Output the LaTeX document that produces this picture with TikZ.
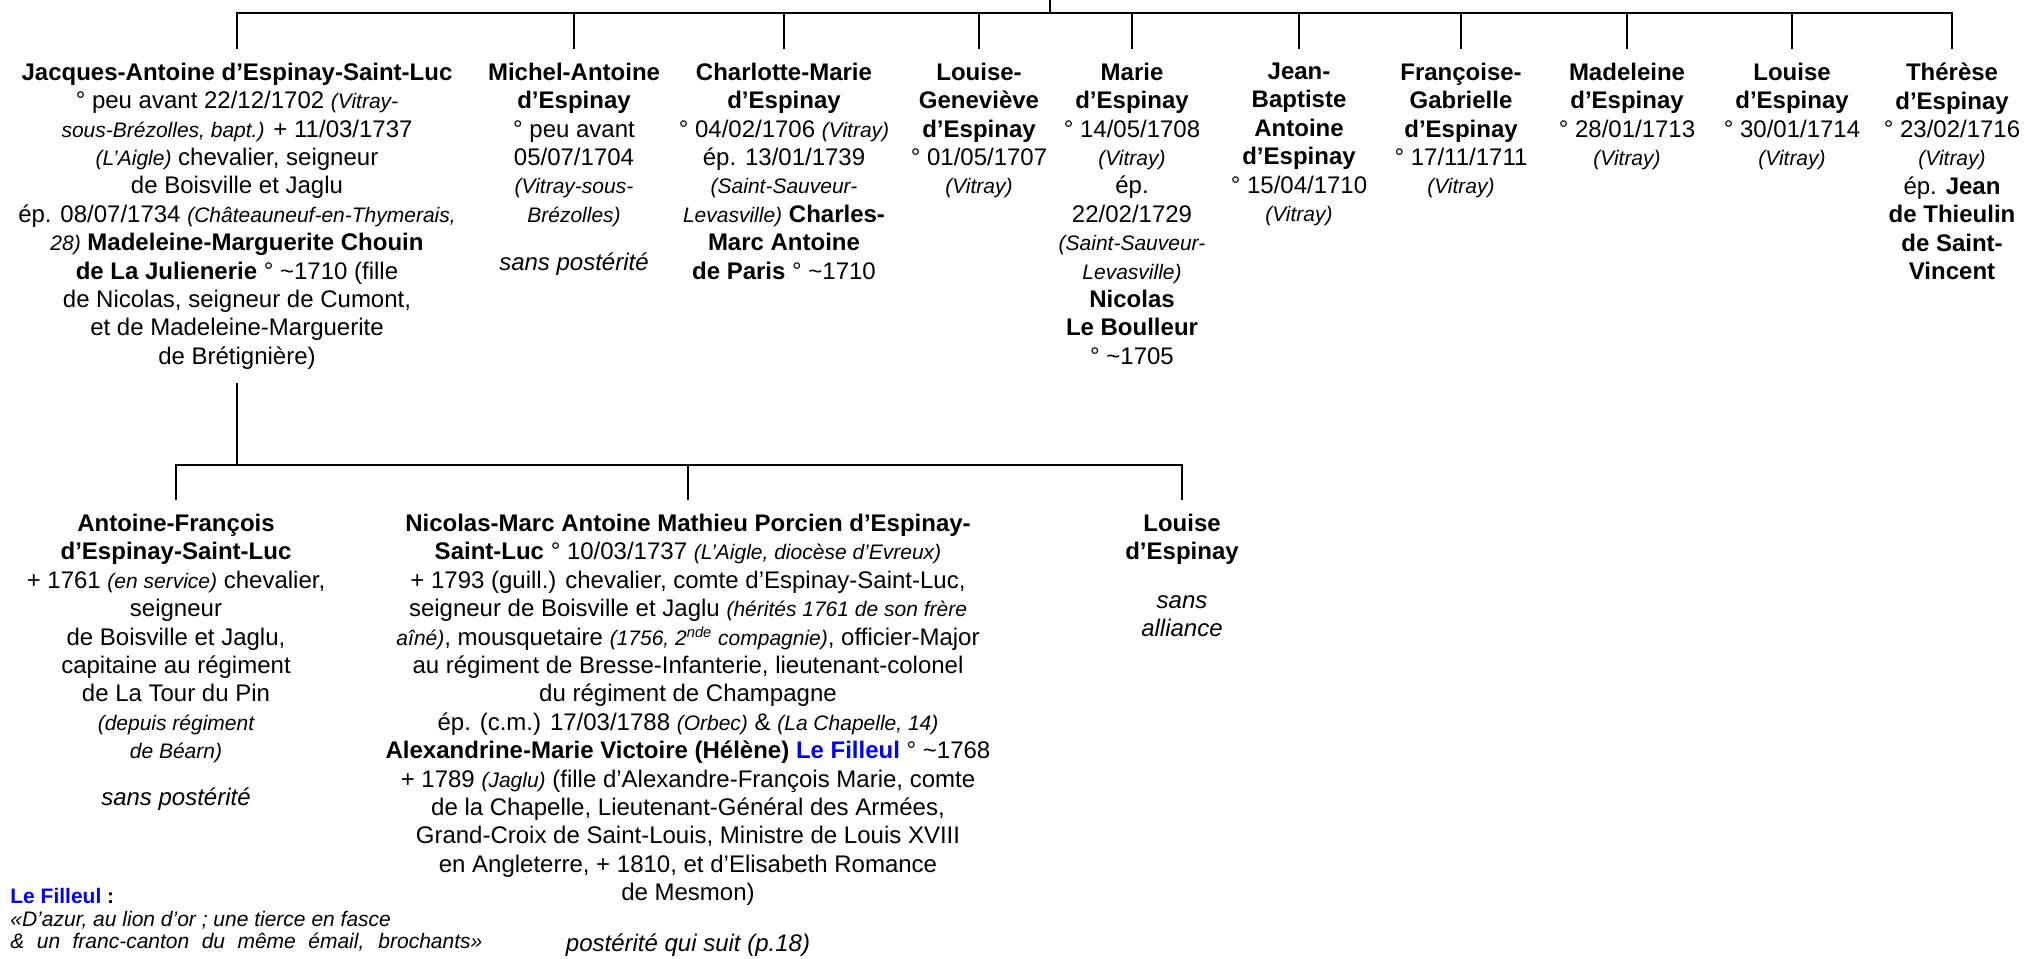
\documentclass[tikz,border=0pt]{standalone}
\usepackage{fontspec}
\setmainfont{Liberation Sans}
\usepackage{xcolor}
\usetikzlibrary{positioning}
\definecolor{filleul}{RGB}{0,0,255}
\definecolor{ink}{RGB}{0,0,0}
\newcommand{\pl}[1]{{\fontsize{10.5}{14.2}\selectfont\itshape #1}}
\newcommand{\nm}[1]{\textbf{#1}}

\begin{document}
\begin{tikzpicture}[x=0.5pt,y=-0.5pt,font=\fontsize{12}{14.2}\selectfont,
  person/.style={anchor=north,align=center,inner sep=0pt,outer ysep=7pt,text=ink},
  link/.style={draw=ink,line width=1pt}]
  \useasboundingbox (0,0) rectangle (2028,958);
  \coordinate (rootstem) at (1050,0);
  \coordinate (bus) at (0,13);
  \coordinate (kidbus) at (0,465);
  % first generation
  \node[person] (jacques) at (237,49) {\nm{Jacques-Antoine d’Espinay-Saint-Luc}\\
    ° peu avant 22/12/1702 \pl{(Vitray-}\\
    \pl{sous-Brézolles, bapt.)} + 11/03/1737\\
    \pl{(L’Aigle)} chevalier, seigneur\\
    de Boisville et Jaglu\\
    ép. 08/07/1734 \pl{(Châteauneuf-en-Thymerais,}\\
    \pl{28)} \nm{Madeleine-Marguerite Chouin}\\
    \nm{de La Julienerie} ° \textasciitilde1710 (fille\\
    de Nicolas, seigneur de Cumont,\\
    et de Madeleine-Marguerite\\
    de Brétignière)};
  \node[person] (michel) at (574,49) {\nm{Michel-Antoine}\\ \nm{d’Espinay}\\
    ° peu avant\\ 05/07/1704\\ \pl{(Vitray-sous-}\\ \pl{Brézolles)}\\[10pt]
    \textit{sans postérité}};
  \node[person] (charlotte) at (784,49) {\nm{Charlotte-Marie}\\ \nm{d’Espinay}\\
    ° 04/02/1706 \pl{(Vitray)}\\ ép. 13/01/1739\\ \pl{(Saint-Sauveur-}\\
    \pl{Levasville)} \nm{Charles-}\\ \nm{Marc Antoine}\\ \nm{de Paris} ° \textasciitilde1710};
  \node[person] (genevieve) at (979,49) {\nm{Louise-}\\ \nm{Geneviève}\\ \nm{d’Espinay}\\
    ° 01/05/1707\\ \pl{(Vitray)}};
  \node[person] (marie) at (1132,49) {\nm{Marie}\\ \nm{d’Espinay}\\ ° 14/05/1708\\
    \pl{(Vitray)}\\ ép.\\ 22/02/1729\\ \pl{(Saint-Sauveur-}\\ \pl{Levasville)}\\
    \nm{Nicolas}\\ \nm{Le Boulleur}\\ ° \textasciitilde1705};
  \node[person] (jeanbaptiste) at (1299,49) {\nm{Jean-}\\ \nm{Baptiste}\\ \nm{Antoine}\\
    \nm{d’Espinay}\\ ° 15/04/1710\\ \pl{(Vitray)}};
  \node[person] (francoise) at (1461,49) {\nm{Françoise-}\\ \nm{Gabrielle}\\ \nm{d’Espinay}\\
    ° 17/11/1711\\ \pl{(Vitray)}};
  \node[person] (madeleine) at (1627,49) {\nm{Madeleine}\\ \nm{d’Espinay}\\ ° 28/01/1713\\
    \pl{(Vitray)}};
  \node[person] (louise) at (1792,49) {\nm{Louise}\\ \nm{d’Espinay}\\ ° 30/01/1714\\
    \pl{(Vitray)}};
  \node[person] (therese) at (1952,49) {\nm{Thérèse}\\ \nm{d’Espinay}\\ ° 23/02/1716\\
    \pl{(Vitray)}\\ ép. \nm{Jean}\\ \nm{de Thieulin}\\ \nm{de Saint-}\\ \nm{Vincent}};
  % second generation
  \node[person] (antoinef) at (176,500) {\nm{Antoine-François}\\ \nm{d’Espinay-Saint-Luc}\\
    + 1761 \pl{(en service)} chevalier,\\ seigneur\\ de Boisville et Jaglu,\\
    capitaine au régiment\\ de La Tour du Pin\\ \pl{(depuis régiment}\\ \pl{de Béarn)}\\[9pt]
    \textit{sans postérité}};
  \node[person] (nicolas) at (688,500) {\nm{Nicolas-Marc Antoine Mathieu Porcien d’Espinay-}\\
    \nm{Saint-Luc} ° 10/03/1737 \pl{(L’Aigle, diocèse d’Evreux)}\\
    + 1793 (guill.) chevalier, comte d’Espinay-Saint-Luc,\\
    seigneur de Boisville et Jaglu \pl{(hérités 1761 de son frère}\\
    \pl{aîné)}, mousquetaire \pl{(1756, 2\textsuperscript{nde} compagnie)}, officier-Major\\
    au régiment de Bresse-Infanterie, lieutenant-colonel\\
    du régiment de Champagne\\
    ép. (c.m.) 17/03/1788 \pl{(Orbec)} \& \pl{(La Chapelle, 14)}\\
    \nm{Alexandrine-Marie Victoire (Hélène) \textcolor{filleul}{Le Filleul}} ° \textasciitilde1768\\
    + 1789 \pl{(Jaglu)} (fille d’Alexandre-François Marie, comte\\
    de la Chapelle, Lieutenant-Général des Armées,\\
    Grand-Croix de Saint-Louis, Ministre de Louis XVIII\\
    en Angleterre, + 1810, et d’Elisabeth Romance\\
    de Mesmon)\\[11pt]
    \textit{postérité qui suit (p.18)}};
  \node[person] (louisebis) at (1182,500) {\nm{Louise}\\ \nm{d’Espinay}\\[10pt]
    \textit{sans}\\ \textit{alliance}};
  \node[anchor=north west,align=left,inner sep=0pt,font=\fontsize{10.5}{11.2}\selectfont] (legend) at (10,888)
    {\nm{\textcolor{filleul}{Le Filleul} :}\\
    \textit{«D’azur, au lion d’or ; une tierce en fasce}\\
    \makebox[236pt][s]{\itshape \& un franc-canton du même émail, brochants»}};
  % links
  \draw[link] (rootstem) -- (rootstem |- bus);
  \draw[link] (jacques.north) -- (jacques.north |- bus) -| (therese.north);
  \foreach \kid in {michel,charlotte,genevieve,marie,jeanbaptiste,francoise,madeleine,louise}
    \draw[link] (\kid.north) -- (\kid.north |- bus);
  \draw[link] (jacques.south) -- (jacques.south |- kidbus);
  \draw[link] (antoinef.north) -- (antoinef.north |- kidbus) -| (louisebis.north);
  \draw[link] (nicolas.north) -- (nicolas.north |- kidbus);
\end{tikzpicture}
\end{document}
